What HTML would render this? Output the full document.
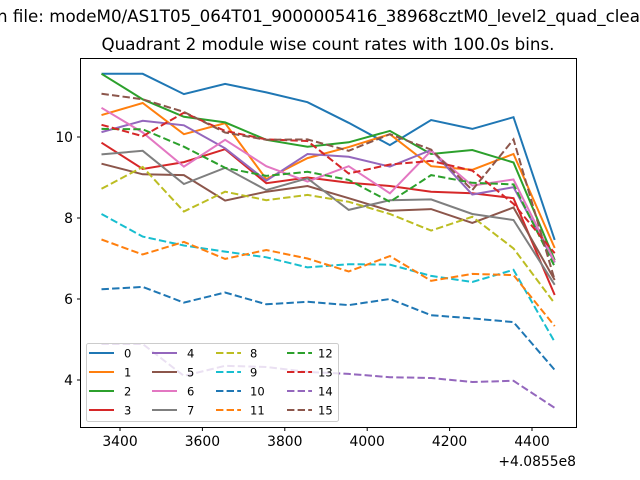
<!DOCTYPE html>
<html><head><meta charset="utf-8"><style>
body{margin:0;background:#fff;}
svg{display:block;font-family:"DejaVu Sans","Liberation Sans",sans-serif;}
</style></head><body>
<svg id="chart" width="640" height="480" viewBox="0 0 640 480" xmlns="http://www.w3.org/2000/svg">
<text x="-3" y="22" font-size="16.7">n file: modeM0/AS1T05_064T01_9000005416_38968cztM0_level2_quad_clean.evt</text>
<text x="328" y="50" font-size="16.7" text-anchor="middle">Quadrant 2 module wise count rates with 100.0s bins.</text>
<g id="plot"></g>
<rect x="80.5" y="58.5" width="496" height="369" fill="none" stroke="#000" stroke-width="1"/>
<g id="ticks"></g>
<text x="576" y="466" font-size="13.9" text-anchor="end">+4.0855e8</text>
<g id="legend"></g>
</svg>
<script>
const xs = [3355,3455,3555,3655,3755,3855,3955,4055,4155,4255,4355,4455];
const labels = ["0","1","2","3","4","5","6","7","8","9","10","11","12","13","14","15"];
const s0=[11.56,11.56,11.06,11.31,11.10,10.86,10.35,9.80,10.42,10.20,10.49,7.46];
const s1=[10.54,10.84,10.07,10.34,8.96,9.48,9.75,10.07,9.28,9.19,9.58,7.26];
const s2=[11.56,10.93,10.50,10.36,9.93,9.76,9.87,10.15,9.58,9.68,9.37,6.96];
const s3=[9.86,9.21,9.38,9.70,8.86,9.00,8.87,8.79,8.65,8.61,8.49,6.10];
const s4=[10.12,10.40,10.29,9.72,8.92,9.58,9.51,9.27,9.68,8.58,8.76,6.90];
const s5=[9.34,9.08,9.06,8.43,8.65,8.79,8.49,8.18,8.22,7.88,8.26,6.47];
const s6=[10.72,10.11,9.27,9.93,9.28,8.90,9.28,8.61,9.66,8.80,8.95,6.92];
const s7=[9.57,9.66,8.84,9.24,8.69,8.98,8.20,8.44,8.46,8.10,7.95,6.35];
const s8=[8.72,9.26,8.16,8.65,8.44,8.57,8.40,8.10,7.69,8.03,7.25,5.89];
const s9=[8.10,7.54,7.32,7.17,7.03,6.78,6.86,6.85,6.57,6.42,6.72,4.94];
const s10=[6.24,6.30,5.91,6.16,5.87,5.93,5.85,6.00,5.60,5.52,5.43,4.25];
const s11=[7.47,7.10,7.41,6.99,7.21,7.00,6.68,7.06,6.45,6.62,6.59,5.33];
const s12=[10.20,10.19,9.76,9.24,9.04,9.14,8.94,8.40,9.06,8.87,8.83,6.80];
const s13=[10.30,10.02,10.60,10.15,9.94,9.90,9.10,9.32,9.41,9.17,8.35,7.13];
const s14=[4.89,4.89,4.10,4.35,4.32,4.20,4.15,4.07,4.05,3.95,3.98,3.31];
const s15=[11.07,10.93,10.62,10.11,9.93,9.94,9.66,10.07,9.69,8.69,9.94,6.47];
const series=[s0,s1,s2,s3,s4,s5,s6,s7,s8,s9,s10,s11,s12,s13,s14,s15];
const xTicks=[3400,3600,3800,4000,4200,4400];
const yTicks=[4,6,8,10];
const colors=["#1f77b4","#ff7f0e","#2ca02c","#d62728","#9467bd","#8c564b","#e377c2","#7f7f7f","#bcbd22","#17becf"];
const NS="http://www.w3.org/2000/svg";
function xS(v){return 120+(v-3400)*0.412;}
function yS(v){return 380-(v-4)*40.5;}
function col(i){return colors[i%10];}
function dashed(i){return i>=8;}
const plot=document.getElementById('plot');
series.forEach((s,i)=>{
  const p=document.createElementNS(NS,'polyline');
  
  
  p.setAttribute('points',s.map((v,j)=>xS(xs[j]).toFixed(1)+','+yS(v).toFixed(1)).join(' '));
  p.setAttribute('fill','none');
  p.setAttribute('stroke',col(i));
  p.setAttribute('stroke-width','2');
  if(dashed(i)) p.setAttribute('stroke-dasharray','7.4,3.2');
  plot.appendChild(p);
});
const tk=document.getElementById('ticks');
xTicks.forEach(t=>{
  const x=xS(t);
  const l=document.createElementNS(NS,'line');
  
  
  l.setAttribute('x1',x);l.setAttribute('x2',x);l.setAttribute('y1',427.5);l.setAttribute('y2',431);
  l.setAttribute('stroke','#000');tk.appendChild(l);
  const tx=document.createElementNS(NS,'text');
  
  
  tx.setAttribute('x',x);tx.setAttribute('y',446);tx.setAttribute('font-size','13.9');tx.setAttribute('text-anchor','middle');
  tx.textContent=t;tk.appendChild(tx);
});
yTicks.forEach(t=>{
  const y=yS(t);
  const l=document.createElementNS(NS,'line');
  
  
  l.setAttribute('x1',77);l.setAttribute('x2',80.5);l.setAttribute('y1',y);l.setAttribute('y2',y);
  l.setAttribute('stroke','#000');tk.appendChild(l);
  const tx=document.createElementNS(NS,'text');
  
  
  tx.setAttribute('x',73);tx.setAttribute('y',y+5);tx.setAttribute('font-size','13.9');tx.setAttribute('text-anchor','end');
  tx.textContent=t;tk.appendChild(tx);
});
const lg=document.getElementById('legend');
const box=document.createElementNS(NS,'rect');


box.setAttribute('x',86.5);box.setAttribute('y',343.5);box.setAttribute('width',252);box.setAttribute('height',78);box.setAttribute('rx',2);
box.setAttribute('fill','rgba(255,255,255,0.8)');box.setAttribute('stroke','#ccc');
lg.appendChild(box);
const colX=[89,152,216,287], textX=[124,187,250,318], rowY=[353,372,391,410];
labels.forEach((lab,i)=>{
  const c=Math.floor(i/4), r=i%4;
  const l=document.createElementNS(NS,'line');
  
  
  l.setAttribute('x1',colX[c]);l.setAttribute('x2',colX[c]+25);l.setAttribute('y1',rowY[r]);l.setAttribute('y2',rowY[r]);
  l.setAttribute('stroke',col(i));l.setAttribute('stroke-width','2');
  if(dashed(i)) l.setAttribute('stroke-dasharray','7.4,3.2');
  lg.appendChild(l);
  const tx=document.createElementNS(NS,'text');
  
  
  tx.setAttribute('x',textX[c]);tx.setAttribute('y',rowY[r]+4.5);tx.setAttribute('font-size','11.5');
  tx.textContent=lab;lg.appendChild(tx);
});
</script>
</body></html>
